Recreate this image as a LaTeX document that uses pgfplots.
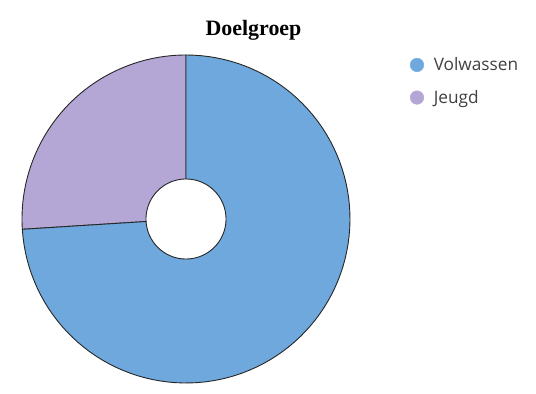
\documentclass[border=0pt]{standalone}
\usepackage{pgfplots}
\usepackage{pgfplotstable}
\pgfplotsset{compat=1.18}
\usepackage{fontspec}
\setmainfont{Liberation Serif}
\newfontfamily\legfont{Open Sans}
\definecolor{cvol}{HTML}{6FA8DC}
\definecolor{cjeu}{HTML}{B4A7D6}
\definecolor{legtext}{HTML}{404040}
\pgfplotstableread{
label value
Volwassen 74
Jeugd 26
}\piedata
\pgfplotstablegetelem{0}{value}\of\piedata \let\vA\pgfplotsretval
\pgfplotstablegetelem{1}{value}\of\piedata \let\vB\pgfplotsretval
\pgfmathsetmacro\angJ{90+360*\vB/(\vA+\vB)}
\newcommand\ringsector[3]{%
  \addplot[fill=#1, draw=black!85, line width=0.9pt, line join=round, domain=0:3, samples=301, variable=\t, forget plot]
  ({186 + ifthenelse(\t<=1, 164*cos(#2+(#3-#2)*\t), ifthenelse(\t<=2, (164-124*(\t-1))*cos(#3), 40*cos(#3-(#3-#2)*(\t-2))))},
   {175 + ifthenelse(\t<=1, 164*sin(#2+(#3-#2)*\t), ifthenelse(\t<=2, (164-124*(\t-1))*sin(#3), 40*sin(#3-(#3-#2)*(\t-2))))}) -- cycle;
}
\begin{document}
\begin{tikzpicture}
\useasboundingbox (0,0) rectangle (536bp,394bp);
\begin{axis}[
  at={(0,0)}, anchor=south west,
  hide axis, scale only axis, width=536bp, height=394bp,
  xmin=0, xmax=536, ymin=0, ymax=394, clip=false,
  legend style={at={(axis cs:407,340.5)}, anchor=north west, draw=none, fill=none,
    font=\legfont\fontsize{17.3}{20}\selectfont\color{legtext}, row sep=14bp, column sep=8bp},
  legend cell align=left,
]
\ringsector{cjeu}{90}{\angJ}
\ringsector{cvol}{\angJ}{450}
\addlegendimage{only marks, mark=*, mark options={fill=cvol, draw=cvol}, mark size=6.8bp}
\addlegendentry{Volwassen}
\addlegendimage{only marks, mark=*, mark options={fill=cjeu, draw=cjeu}, mark size=6.8bp}
\addlegendentry{Jeugd}
\node[font=\bfseries\fontsize{22}{25}\selectfont] at (axis cs:253.5,364) {Doelgroep};
\end{axis}
\end{tikzpicture}
\end{document}
